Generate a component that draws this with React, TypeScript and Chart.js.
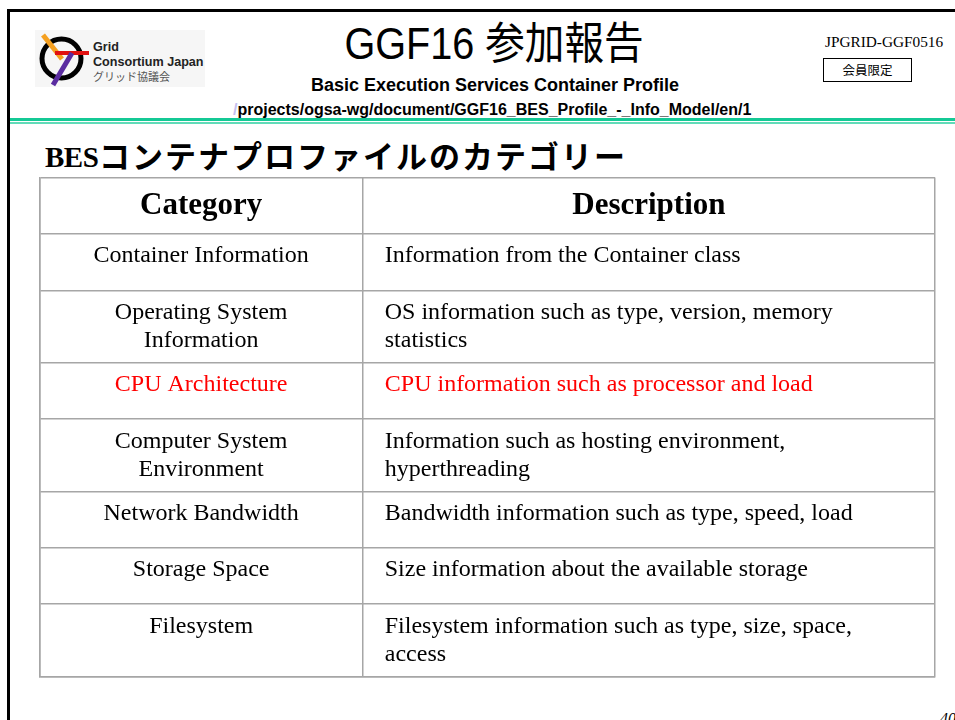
import React, { useEffect, useRef } from "react";
import { Chart, registerables } from "chart.js";

Chart.register(...registerables);

// ---------- data ----------
const HEADERS = ["Category", "Description"];
const CATEGORIES = [
  "Container Information",
  "Operating System\nInformation",
  "CPU Architecture",
  "Computer System\nEnvironment",
  "Network Bandwidth",
  "Storage Space",
  "Filesystem",
];
const DESCRIPTIONS = [
  "Information from the Container class",
  "OS information such as type, version, memory\nstatistics",
  "CPU information such as processor and load",
  "Information such as hosting environment,\nhyperthreading",
  "Bandwidth information such as type, speed, load",
  "Size information about the available storage",
  "Filesystem information such as type, size, space,\naccess",
];
const HIGHLIGHTED = [false, false, true, false, false, false, false];

// ---------- layout constants ----------
const COL_SPLIT = 0.361; // fraction of table width for first column
const ROW_ONE = 56.5;
const ROW_TWO = 72.5;
const HEADER_ROW = 56.5;
const GRID_COLOR = "#a6a6a6";

function rowHeights(): number[] {
  const h = [HEADER_ROW];
  CATEGORIES.forEach((c, i) => {
    const n = Math.max(c.split("\n").length, DESCRIPTIONS[i].split("\n").length);
    h.push(n > 1 ? ROW_TWO : ROW_ONE);
  });
  return h;
}

function TableChart() {
  const ref = useRef<HTMLCanvasElement | null>(null);
  useEffect(() => {
    if (!ref.current) return;
    const heights = rowHeights();
    const bounds: number[] = [0];
    heights.forEach((h) => bounds.push(bounds[bounds.length - 1] + h));
    const total = bounds[bounds.length - 1];

    const textPlugin = {
      id: "tableText",
      afterDraw(chart: any) {
        const ctx = chart.ctx;
        const xs = chart.scales.x;
        const ys = chart.scales.y;
        const c0 = xs.getPixelForValue(COL_SPLIT / 2);
        const c1 = xs.getPixelForValue((COL_SPLIT + 1) / 2);
        const divider = xs.getPixelForValue(COL_SPLIT);
        ctx.save();
        ctx.textBaseline = "alphabetic";
        // header
        ctx.font = "bold 31px 'Liberation Serif', 'Times New Roman', serif";
        ctx.fillStyle = "#000";
        ctx.textAlign = "center";
        const hTop = ys.getPixelForValue(bounds[0]);
        ctx.fillText(HEADERS[0], c0, hTop + 36.5);
        ctx.fillText(HEADERS[1], c1, hTop + 36.5);
        // body
        ctx.font = "24px 'Liberation Serif', 'Times New Roman', serif";
        CATEGORIES.forEach((cat, i) => {
          const top = ys.getPixelForValue(bounds[i + 1]);
          ctx.fillStyle = HIGHLIGHTED[i] ? "#ff0000" : "#000000";
          ctx.textAlign = "center";
          cat.split("\n").forEach((line, k) => {
            ctx.fillText(line, c0, top + 28.5 + k * 28);
          });
          ctx.textAlign = "left";
          DESCRIPTIONS[i].split("\n").forEach((line, k) => {
            ctx.fillText(line, divider + 22, top + 28.5 + k * 28);
          });
        });
        ctx.restore();
      },
    };

    const chart = new Chart(ref.current, {
      type: "scatter",
      data: { datasets: [] },
      options: {
        animation: false,
        responsive: false,
        devicePixelRatio: 1,
        layout: { padding: { left: 9.5, top: 9.5, right: 15, bottom: 11.5 } },
        plugins: { legend: { display: false }, tooltip: { enabled: false } },
        scales: {
          x: {
            type: "linear",
            min: 0,
            max: 1,
            ticks: { display: false },
            grid: { color: GRID_COLOR, lineWidth: 1.5, drawTicks: false },
            border: { display: true, color: GRID_COLOR, width: 1.5 },
            afterBuildTicks: (s: any) => {
              s.ticks = [0, COL_SPLIT, 1].map((v) => ({ value: v }));
            },
          },
          y: {
            type: "linear",
            min: 0,
            max: total,
            reverse: true,
            ticks: { display: false },
            grid: { color: GRID_COLOR, lineWidth: 1.5, drawTicks: false },
            border: { display: true, color: GRID_COLOR, width: 1.5 },
            afterBuildTicks: (s: any) => {
              s.ticks = bounds.map((v) => ({ value: v }));
            },
          },
        },
      },
      plugins: [textPlugin],
    } as any);
    return () => chart.destroy();
  }, []);
  return (
    <canvas
      ref={ref}
      width={920}
      height={520}
      style={{ position: "absolute", left: 30, top: 168, width: 920, height: 520 }}
    />
  );
}

const SANS = "'Liberation Sans', Arial, 'Noto Sans CJK JP', sans-serif";
const SERIF = "'Liberation Serif', 'Times New Roman', serif";
const CJK = "'Noto Sans CJK JP', sans-serif";

export default function App() {
  useEffect(() => {
    document.body.style.margin = "0";
  }, []);
  const abs: React.CSSProperties = { position: "absolute", whiteSpace: "nowrap" };
  return (
    <div
      style={{
        position: "absolute",
        left: 0,
        top: 0,
        width: 955,
        height: 720,
        overflow: "hidden",
        background: "#ffffff",
      }}
    >
      {/* slide frame */}
      <div
        style={{
          position: "absolute",
          left: 7,
          top: 9,
          width: 2000,
          height: 2000,
          borderLeft: "3px solid #000",
          borderTop: "3px solid #000",
        }}
      />
      {/* green rules */}
      <div style={{ position: "absolute", left: 10, top: 117.5, width: 945, height: 3.5, background: "#14c995" }} />
      <div style={{ position: "absolute", left: 10, top: 122, width: 945, height: 2, background: "#62dbb8" }} />

      {/* logo */}
      <svg width={210} height={95} style={{ position: "absolute", left: 0, top: 0 }}>
        <rect x={35} y={30} width={170} height={57} fill="#f6f6f6" />
        <circle cx={61.5} cy={58.5} r={19.5} fill="none" stroke="#000" strokeWidth={5} />
        <line x1={43} y1={35} x2={62} y2={59} stroke="#f5a020" strokeWidth={5} />
        <line x1={55} y1={53} x2={89} y2={53} stroke="#e01010" strokeWidth={4} />
        <line x1={72} y1={53} x2={53} y2={85} stroke="#5a2ca0" strokeWidth={5} />
      </svg>
      <div style={{ ...abs, left: 93, top: 52 - 0.8465 * 12.6, fontFamily: SANS, fontWeight: 700, fontSize: 12.6, lineHeight: "12.6px", color: "#222" }}>
        Grid
      </div>
      <div style={{ ...abs, left: 93, top: 66.5 - 0.8465 * 12.6, fontFamily: SANS, fontWeight: 700, fontSize: 12.6, lineHeight: "12.6px", color: "#222" }}>
        Consortium Japan
      </div>
      <div style={{ ...abs, left: 93, top: 80.5 - 0.88 * 11, fontFamily: CJK, fontSize: 11, lineHeight: "11px", color: "#555" }}>
        グリッド協議会
      </div>

      {/* title */}
      <div
        style={{
          ...abs,
          left: 494,
          top: 59 - 0.8465 * 44,
          fontFamily: SANS,
          fontSize: 44,
          lineHeight: "44px",
          color: "#000",
          transform: "translateX(-50%) scaleX(0.9)",
        }}
      >
        GGF16 参加報告
      </div>
      <div
        style={{
          ...abs,
          left: 495,
          top: 91 - 0.8465 * 18,
          fontFamily: SANS,
          fontWeight: 700,
          fontSize: 18,
          lineHeight: "18px",
          color: "#000",
          transform: "translateX(-50%)",
        }}
      >
        Basic Execution Services Container Profile
      </div>
      <div
        style={{
          ...abs,
          left: 233,
          top: 115.5 - 0.8465 * 16,
          fontFamily: SANS,
          fontWeight: 700,
          fontSize: 16,
          lineHeight: "16px",
          color: "#000",
        }}
      >
        <span style={{ color: "#c4c0f0" }}>/</span>projects/ogsa-wg/document/GGF16_BES_Profile_-_Info_Model/en/1
      </div>

      {/* right header */}
      <div style={{ ...abs, left: 825, top: 47 - 0.8375 * 15.3, fontFamily: SERIF, fontSize: 15.3, lineHeight: "15.3px", color: "#000" }}>
        JPGRID-GGF0516
      </div>
      <div
        style={{
          position: "absolute",
          left: 823,
          top: 58,
          width: 89,
          height: 24,
          boxSizing: "border-box",
          border: "1px solid #000",
          fontFamily: CJK,
          fontSize: 12.5,
          lineHeight: "22px",
          textAlign: "center",
          color: "#000",
        }}
      >
        会員限定
      </div>

      {/* section title */}
      <div style={{ ...abs, left: 45, top: 167.5 - 0.8375 * 29, fontFamily: SERIF, fontWeight: 700, fontSize: 29, lineHeight: "29px", letterSpacing: "-0.5px", color: "#000" }}>
        BES
      </div>
      <div style={{ ...abs, left: 99, top: 166 - 0.88 * 31, fontFamily: CJK, fontWeight: 700, fontSize: 31, lineHeight: "31px", letterSpacing: "2px", color: "#000" }}>
        コンテナプロファイルのカテゴリー
      </div>

      <TableChart />

      {/* page number */}
      <div style={{ ...abs, left: 940, top: 724 - 0.8375 * 16, fontFamily: SERIF, fontStyle: "italic", fontSize: 16, lineHeight: "16px", color: "#000" }}>
        40
      </div>
    </div>
  );
}
